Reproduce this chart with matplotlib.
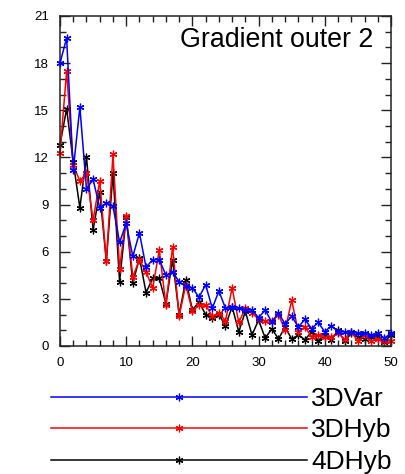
import matplotlib
matplotlib.use("Agg")
from matplotlib import pyplot as plt
from matplotlib.ticker import MultipleLocator

plt.rcParams['font.family'] = ['Liberation Sans', 'DejaVu Sans']

iters = list(range(51))
var3d = [18.0, 19.6, 11.2, 15.2, 10.0, 10.6, 8.8, 9.1, 8.9, 6.6,
         7.8, 5.7, 7.2, 5.0, 5.5, 5.5, 4.5, 4.7, 4.1, 3.8,
         3.7, 3.1, 3.9, 2.4, 3.5, 2.4, 2.5, 2.4, 2.3, 2.3,
         1.8, 2.3, 1.5, 2.1, 1.4, 1.9, 1.2, 1.7, 1.1, 1.5,
         0.9, 1.3, 0.9, 0.9, 0.9, 0.8, 0.8, 0.7, 0.8, 0.5, 0.8]
hyb3d = [12.3, 17.5, 11.5, 10.5, 11.0, 8.0, 10.5, 5.4, 12.2, 4.9,
         8.3, 4.4, 5.5, 4.7, 3.7, 6.1, 2.6, 6.3, 1.9, 3.9,
         2.2, 2.6, 2.6, 1.9, 2.1, 1.6, 3.7, 1.5, 2.4, 2.1,
         1.7, 1.6, 1.6, 2.0, 1.0, 2.9, 0.9, 1.2, 0.6, 0.7,
         0.6, 0.6, 0.8, 0.45, 0.9, 0.3, 0.7, 0.3, 0.45, 0.35, 0.3]
hyb4d = [12.8, 15.1, 11.7, 8.8, 12.0, 7.4, 9.8, 5.4, 11.0, 4.1,
         8.2, 4.0, 5.6, 3.4, 4.3, 4.3, 2.7, 5.5, 2.0, 4.2,
         2.3, 2.8, 2.0, 1.8, 2.0, 1.3, 2.5, 0.9, 2.2, 0.7,
         1.65, 0.5, 1.1, 0.45, 1.2, 0.45, 0.7, 0.4, 0.9, 0.35,
         0.7, 0.4, 1.0, 0.3, 0.8, 0.6, 0.45, 0.6, 0.65, 0.25, 0.7]
series = [("3DVar", var3d, "blue", 3), ("3DHyb", hyb3d, "red", 2), ("4DHyb", hyb4d, "black", 1)]

fig = plt.figure(figsize=(4.06, 4.74), dpi=100)
ax = fig.add_axes([60 / 406, 128 / 474, 331 / 406, 330 / 474])

for name, vals, col, z in series:
    ax.plot(iters, vals, color=col, lw=1.1, marker=(6, 2, 0), ms=5.5, mew=0.9,
            label=name, zorder=z, clip_on=False)

ax.set_xlim(0, 50)
ax.set_ylim(0, 21)
ax.xaxis.set_major_locator(MultipleLocator(10))
ax.xaxis.set_minor_locator(MultipleLocator(2))
ax.yaxis.set_major_locator(MultipleLocator(3))
ax.yaxis.set_minor_locator(MultipleLocator(1))
ax.tick_params(which='both', direction='in', top=True, right=True, width=1, color='#222222')
ax.tick_params(which='major', length=7, labelsize=9.5, pad=8)
ax.tick_params(which='minor', length=4)
for s in ax.spines.values():
    s.set_linewidth(1.1)
    s.set_color('#222222')

ax.text(0.946, 0.905, "Gradient outer 2", transform=ax.transAxes, ha='right',
        va='baseline', fontsize=19.3)

fig.legend(loc='upper left', bbox_to_anchor=(51 / 406, 1 - 387 / 474), frameon=False,
           fontsize=19, handlelength=9.7, handletextpad=0.15, labelspacing=0.28,
           borderpad=0, borderaxespad=0, numpoints=1)

fig.savefig("out.png", dpi=100)
